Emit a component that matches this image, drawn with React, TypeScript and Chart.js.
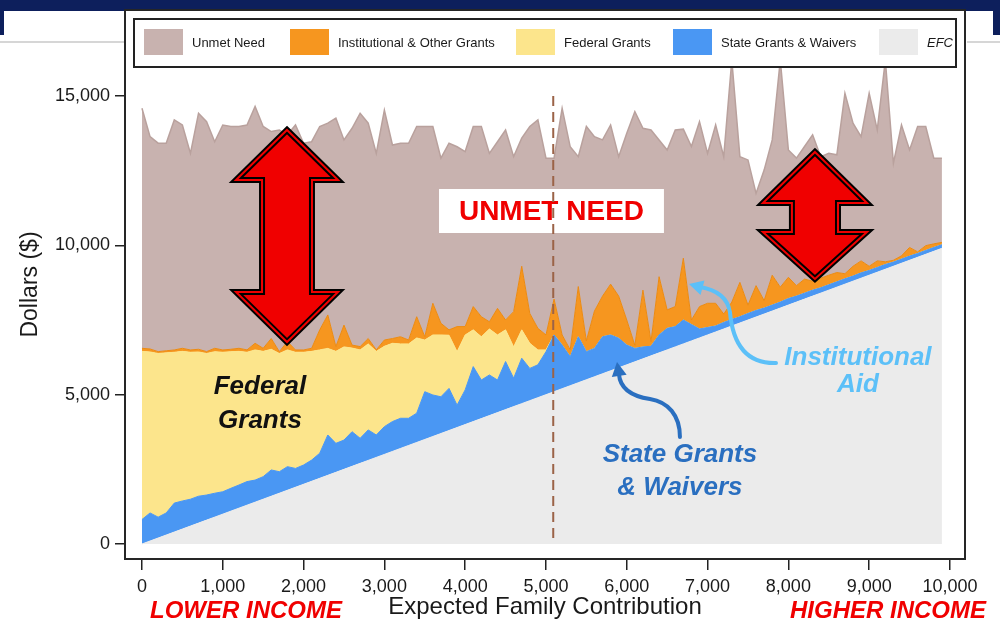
import React, { useEffect, useRef } from "react";
import { Chart, registerables } from "chart.js";

Chart.register(...registerables);

const FONT = "'Liberation Sans', Arial, Helvetica, sans-serif";

// x categories: Expected Family Contribution ($)
const efcCategories = [
  0, 100, 200, 300, 400, 500, 600, 700, 800, 900,
  1000, 1100, 1200, 1300, 1400, 1500, 1600, 1700, 1800, 1900,
  2000, 2100, 2200, 2300, 2400, 2500, 2600, 2700, 2800, 2900,
  3000, 3100, 3200, 3300, 3400, 3500, 3600, 3700, 3800, 3900,
  4000, 4100, 4200, 4300, 4400, 4500, 4600, 4700, 4800, 4900,
  5000, 5100, 5200, 5300, 5400, 5500, 5600, 5700, 5800, 5900,
  6000, 6100, 6200, 6300, 6400, 6500, 6600, 6700, 6800, 6900,
  7000, 7100, 7200, 7300, 7400, 7500, 7600, 7700, 7800, 7900,
  8000, 8100, 8200, 8300, 8400, 8500, 8600, 8700, 8800, 8900,
  9000, 9100, 9200, 9300, 9400, 9500, 9600, 9700, 9800, 9900,
];

// The EFC layer equals the family's EFC (the x value itself)
const efcAmount = efcCategories;

// Cumulative level after adding State Grants & Waivers
const withStateGrants = [
  820, 1040, 900, 1040, 1370, 1440, 1500, 1600, 1640, 1700,
  1750, 1865, 1975, 2090, 2140, 2255, 2480, 2420, 2590, 2530,
  2645, 2810, 3040, 3650, 3370, 3480, 3760, 3540, 3820, 3650,
  3930, 4100, 4210, 4210, 4380, 5100, 4990, 4930, 5210, 4650,
  5160, 5940, 5490, 5660, 5490, 6110, 5550, 6220, 5880, 6000,
  6440, 7000, 6660, 6270, 6940, 6440, 6550, 6940, 7000, 6890,
  6660, 6550, 6600, 6620, 7000, 7220, 7280, 7500, 7350, 7200,
  7250, 7300, 7420, 7520, 7610, 7720, 7820, 7900, 8000, 8100,
  8220, 8300, 8400, 8500, 8580, 8680, 8780, 8880, 8970, 9080,
  9160, 9260, 9360, 9440, 9540, 9640, 9730, 9830, 9930, 10020,
];

// Cumulative level after adding Federal Grants
const withFederalGrants = [
  6450, 6430, 6380, 6400, 6420, 6450, 6420, 6430, 6380, 6440,
  6420, 6440, 6450, 6420, 6500, 6450, 6520, 6380, 6500, 6420,
  6420, 6450, 6500, 6550, 6450, 6600, 6560, 6500, 6700, 6450,
  6620, 6720, 6700, 6700, 6900, 6830, 7000, 7000, 6990, 6440,
  7000, 7170, 6940, 7200, 7000, 7170, 6600, 7170, 6720, 6500,
  6500, 7000, 6660, 6270, 6940, 6440, 6550, 6940, 7000, 6890,
  6660, 6550, 6600, 6620, 7000, 7220, 7280, 7500, 7350, 7200,
  7250, 7300, 7420, 7520, 7610, 7720, 7820, 7900, 8000, 8100,
  8220, 8300, 8400, 8500, 8580, 8680, 8780, 8880, 8970, 9080,
  9160, 9260, 9360, 9440, 9540, 9640, 9730, 9830, 9930, 10020,
];

// Cumulative level after adding Institutional & Other Grants
const withInstitutionalGrants = [
  6553, 6530, 6441, 6470, 6497, 6553, 6497, 6520, 6441, 6553,
  6497, 6520, 6553, 6500, 6720, 6553, 6880, 6441, 6780, 6497,
  6497, 6553, 7170, 7670, 6610, 7330, 6660, 6610, 6880, 6500,
  6830, 6880, 6940, 6830, 7610, 6940, 8060, 7390, 7170, 7280,
  7280, 7950, 7610, 7440, 7890, 7500, 7780, 9300, 7720, 7220,
  7000, 8200, 7000, 6500, 8620, 6800, 7800, 8300, 8700, 8300,
  7500, 6650, 8500, 6780, 8950, 7840, 7950, 9570, 7500, 7950,
  8060, 8060, 7700, 8100, 8760, 8000, 8650, 8150, 9000, 8600,
  8930, 8650, 8870, 8800, 8900, 9000, 9090, 9050, 9300, 9480,
  9300, 9480, 9450, 9500, 9650, 9930, 9780, 9990, 10050, 10100,
];

// Total cost of attendance (top of Unmet Need)
const costOfAttendance = [
  14590, 13640, 13420, 13420, 14200, 14030, 13080, 14420, 14140, 13470,
  14030, 13980, 13980, 14030, 14650, 13980, 13810, 13860, 13700, 14030,
  13420, 13470, 13980, 14090, 14260, 13530, 13920, 14420, 14090, 13080,
  14530, 13360, 13420, 13420, 13980, 13980, 13980, 12920, 13420, 13300,
  13140, 13980, 13980, 13080, 13470, 13860, 12970, 13590, 13980, 14200,
  12920, 12920, 14590, 13300, 12970, 13980, 13640, 13530, 14030, 12970,
  13750, 14480, 13920, 13865, 13530, 13195, 13865, 13890, 13310, 14140,
  13080, 14030, 12970, 16200, 12970, 12860, 11740, 12520, 13530, 16200,
  13195, 12920, 13310, 13700, 12970, 13080, 13030, 15090, 14090, 13640,
  15090, 13865, 16200, 12750, 14030, 13195, 13980, 13980, 12920, 12920,
];

const xTickValues = [0, 1000, 2000, 3000, 4000, 5000, 6000, 7000, 8000, 9000, 10000];
const yTickValues = [0, 5000, 10000, 15000];

const legendLabels = ["Unmet Need", "Institutional & Other Grants", "Federal Grants", "State Grants & Waivers", "EFC"];
const legendColors = ["#c8b2af", "#f6961f", "#fce58c", "#4a97f3", "#ebebeb"];

// annotation anchors (data units)
const dividerEfc = 5090;
const dividerTop = 15000;
const leftArrow = { x: 1795, tip: 13862, headBase: 12187, tailBase: 8437, tail: 6763, headHalf: 631, shaftHalf: 309 };
const rightArrow = { x: 8329, tip: 13125, headBase: 11417, tailBase: 10446, tail: 8873, headHalf: 644, shaftHalf: 285 };
const unmetBox = { x0: 3676, x1: 6460, y0: 11886, y1: 10413 };
const instArrowPts: [number, number][] = [
  [7847, 6060], [7401, 6027], [7302, 6998], [7277, 7768], [7240, 8337], [7054, 8538], [6906, 8605], [6770, 8705],
];
const stateArrowPts: [number, number][] = [
  [6658, 3583], [6658, 4319], [6510, 4754], [6287, 4855], [6040, 4955], [5916, 5223], [5903, 5692], [5879, 6094],
];

const toPoints = (ys: number[]) => efcCategories.map((x, i) => ({ x, y: ys[i] }));

function drawDoubleArrow(ctx: CanvasRenderingContext2D, X: (v: number) => number, Y: (v: number) => number, a: any) {
  const cx = X(a.x);
  const hh = X(a.x + a.headHalf) - cx;
  const sh = X(a.x + a.shaftHalf) - cx;
  const pts: [number, number][] = [
    [cx, Y(a.tip)],
    [cx + hh, Y(a.headBase)],
    [cx + sh, Y(a.headBase)],
    [cx + sh, Y(a.tailBase)],
    [cx + hh, Y(a.tailBase)],
    [cx, Y(a.tail)],
    [cx - hh, Y(a.tailBase)],
    [cx - sh, Y(a.tailBase)],
    [cx - sh, Y(a.headBase)],
    [cx - hh, Y(a.headBase)],
  ];
  ctx.beginPath();
  pts.forEach((p, i) => (i === 0 ? ctx.moveTo(p[0], p[1]) : ctx.lineTo(p[0], p[1])));
  ctx.closePath();
  ctx.fillStyle = "#f00000";
  ctx.fill();
  ctx.lineJoin = "miter";
  ctx.strokeStyle = "#000";
  ctx.lineWidth = 6;
  ctx.stroke();
  ctx.strokeStyle = "#f00000";
  ctx.lineWidth = 2;
  ctx.stroke();
}

function drawCurvedArrow(ctx: CanvasRenderingContext2D, X: (v: number) => number, Y: (v: number) => number, pts: [number, number][], color: string) {
  const p = pts.map(([a, b]) => [X(a), Y(b)]);
  ctx.strokeStyle = color;
  ctx.fillStyle = color;
  ctx.lineWidth = 4;
  ctx.lineCap = "round";
  ctx.beginPath();
  ctx.moveTo(p[0][0], p[0][1]);
  ctx.bezierCurveTo(p[1][0], p[1][1], p[2][0], p[2][1], p[3][0], p[3][1]);
  ctx.bezierCurveTo(p[4][0], p[4][1], p[5][0], p[5][1], p[6][0], p[6][1]);
  ctx.stroke();
  const [ex, ey] = p[6];
  const [tx, ty] = p[7];
  const ang = Math.atan2(ty - ey, tx - ex);
  const len = 14;
  const half = 7.5;
  const bx = tx - len * Math.cos(ang);
  const by = ty - len * Math.sin(ang);
  ctx.beginPath();
  ctx.moveTo(tx, ty);
  ctx.lineTo(bx + half * Math.sin(ang), by - half * Math.cos(ang));
  ctx.lineTo(bx - half * Math.sin(ang), by + half * Math.cos(ang));
  ctx.closePath();
  ctx.fill();
}

const decorPlugin = {
  id: "decor",
  beforeDraw(chart: any) {
    const { ctx } = chart;
    ctx.save();
    ctx.fillStyle = "#ffffff";
    ctx.fillRect(0, 0, chart.width, chart.height);
    ctx.fillStyle = "#0d1f5c";
    ctx.fillRect(0, 0, chart.width, 11);
    ctx.fillRect(0, 0, 4, 35);
    ctx.fillRect(993, 0, 7, 35);
    ctx.strokeStyle = "#c9c9c9";
    ctx.lineWidth = 1.5;
    ctx.beginPath();
    ctx.moveTo(0, 42);
    ctx.lineTo(124, 42);
    ctx.moveTo(967, 42);
    ctx.lineTo(1000, 42);
    ctx.stroke();
    ctx.restore();
  },
  afterDraw(chart: any) {
    const { ctx, chartArea } = chart;
    const xs = chart.scales.x;
    const ys = chart.scales.y;
    const X = (v: number) => xs.getPixelForValue(v);
    const Y = (v: number) => ys.getPixelForValue(v);
    ctx.save();

    // red double arrows
    drawDoubleArrow(ctx, X, Y, leftArrow);
    drawDoubleArrow(ctx, X, Y, rightArrow);

    // UNMET NEED label box
    ctx.fillStyle = "#ffffff";
    ctx.fillRect(X(unmetBox.x0), Y(unmetBox.y0), X(unmetBox.x1) - X(unmetBox.x0), Y(unmetBox.y1) - Y(unmetBox.y0));
    ctx.fillStyle = "#f00000";
    ctx.font = `bold 28px ${FONT}`;
    ctx.textAlign = "center";
    ctx.textBaseline = "middle";
    ctx.fillText("UNMET NEED", (X(unmetBox.x0) + X(unmetBox.x1)) / 2, (Y(unmetBox.y0) + Y(unmetBox.y1)) / 2 + 1);

    // dashed divider
    ctx.strokeStyle = "#9b6347";
    ctx.lineWidth = 2;
    ctx.setLineDash([10, 6]);
    ctx.beginPath();
    ctx.moveTo(X(dividerEfc), Y(dividerTop));
    ctx.lineTo(X(dividerEfc), Y(0));
    ctx.stroke();
    ctx.setLineDash([]);

    // annotation texts
    ctx.font = `italic bold 26px ${FONT}`;
    ctx.fillStyle = "#111111";
    ctx.fillText("Federal", X(1460), Y(5257));
    ctx.fillText("Grants", X(1460), Y(4118));
    ctx.fillStyle = "#2a6fc0";
    ctx.fillText("State Grants", X(6658), Y(2980));
    ctx.fillText("& Waivers", X(6658), Y(1875));
    ctx.fillStyle = "#5cc0f8";
    ctx.fillText("Institutional", X(8861), Y(6228));
    ctx.fillText("Aid", X(8861), Y(5324));

    // curved arrows
    drawCurvedArrow(ctx, X, Y, instArrowPts, "#5cc0f8");
    drawCurvedArrow(ctx, X, Y, stateArrowPts, "#2a6fc0");

    // legend box
    ctx.fillStyle = "#ffffff";
    ctx.fillRect(134, 19, 822, 48);
    ctx.strokeStyle = "#222222";
    ctx.lineWidth = 2;
    ctx.strokeRect(134, 19, 822, 48);
    const swX = [144, 290, 516, 673, 879];
    ctx.textAlign = "left";
    ctx.textBaseline = "middle";
    legendLabels.forEach((lab, i) => {
      ctx.fillStyle = legendColors[i];
      ctx.fillRect(swX[i], 29, 39, 26);
      ctx.fillStyle = "#1a1a1a";
      ctx.font = i === 4 ? `italic 13px ${FONT}` : `13px ${FONT}`;
      ctx.fillText(lab, swX[i] + 48, 43);
    });

    // frame
    ctx.strokeStyle = "#262626";
    ctx.lineWidth = 2;
    ctx.strokeRect(chartArea.left, chartArea.top, chartArea.right - chartArea.left, chartArea.bottom - chartArea.top);

    // income labels
    ctx.fillStyle = "#f00000";
    ctx.font = `italic bold 24px ${FONT}`;
    ctx.textAlign = "center";
    ctx.fillText("LOWER INCOME", 246, 611);
    ctx.fillText("HIGHER INCOME", 888, 611);

    ctx.restore();
  },
};

export default function App() {
  const canvasRef = useRef<HTMLCanvasElement | null>(null);

  useEffect(() => {
    const canvas = canvasRef.current;
    if (!canvas) return;
    const lineBase = { pointRadius: 0, pointHoverRadius: 0, tension: 0 };
    const chart = new Chart(canvas, {
      type: "line",
      data: {
        datasets: [
          { ...lineBase, label: "EFC", data: toPoints(efcAmount), fill: "origin", backgroundColor: "#ebebeb", borderColor: "#ebebeb", borderWidth: 1 },
          { ...lineBase, label: "State Grants & Waivers", data: toPoints(withStateGrants), fill: "-1", backgroundColor: "#4a97f3", borderColor: "#4a97f3", borderWidth: 1 },
          { ...lineBase, label: "Federal Grants", data: toPoints(withFederalGrants), fill: "-1", backgroundColor: "#fce58c", borderColor: "#fce58c", borderWidth: 1 },
          { ...lineBase, label: "Institutional & Other Grants", data: toPoints(withInstitutionalGrants), fill: "-1", backgroundColor: "#f6961f", borderColor: "#eb8a12", borderWidth: 1 },
          { ...lineBase, label: "Unmet Need", data: toPoints(costOfAttendance), fill: "-1", backgroundColor: "#c8b2af", borderColor: "#b9a19d", borderWidth: 1.5 },
        ],
      } as any,
      options: {
        responsive: false,
        devicePixelRatio: 1,
        animation: false,
        events: [],
        layout: { padding: { top: 10, right: 35, left: 0, bottom: 0 } },
        plugins: {
          legend: { display: false },
          tooltip: { enabled: false },
        },
        scales: {
          x: {
            type: "linear",
            min: -210,
            max: 10186,
            afterBuildTicks: (s: any) => {
              s.ticks = xTickValues.map((v) => ({ value: v }));
            },
            afterFit: (s: any) => {
              s.height = 65;
              s.paddingLeft = 0;
              s.paddingRight = 0;
            },
            border: { display: false },
            grid: { drawOnChartArea: false, drawTicks: true, tickLength: 11, color: "#222222", lineWidth: 1.5 },
            ticks: {
              autoSkip: false,
              maxRotation: 0,
              padding: 6,
              color: "#1a1a1a",
              font: { family: FONT, size: 18 },
              callback: (v: any) => Number(v).toLocaleString("en-US"),
            },
            title: {
              display: true,
              text: "Expected Family Contribution",
              color: "#1a1a1a",
              font: { family: FONT, size: 24 },
              padding: { top: 0, bottom: 2 },
            },
          },
          y: {
            type: "linear",
            min: -502,
            max: 17880,
            afterBuildTicks: (s: any) => {
              s.ticks = yTickValues.map((v) => ({ value: v }));
            },
            afterFit: (s: any) => {
              s.width = 125;
              s.paddingTop = 0;
              s.paddingBottom = 0;
            },
            border: { display: false },
            grid: { drawOnChartArea: false, drawTicks: true, tickLength: 10, color: "#222222", lineWidth: 1.5 },
            ticks: {
              autoSkip: false,
              padding: 5,
              color: "#1a1a1a",
              font: { family: FONT, size: 18 },
              callback: (v: any) => Number(v).toLocaleString("en-US"),
            },
            title: {
              display: true,
              text: "Dollars ($)",
              color: "#1a1a1a",
              font: { family: FONT, size: 23 },
              padding: { top: 17, bottom: 0 },
            },
          },
        },
      } as any,
      plugins: [decorPlugin],
    });
    return () => chart.destroy();
  }, []);

  return (
    <div style={{ position: "fixed", left: 0, top: 0, width: 1000, height: 624, background: "#ffffff" }}>
      <canvas ref={canvasRef} width={1000} height={624} style={{ display: "block", width: 1000, height: 624 }} />
    </div>
  );
}
